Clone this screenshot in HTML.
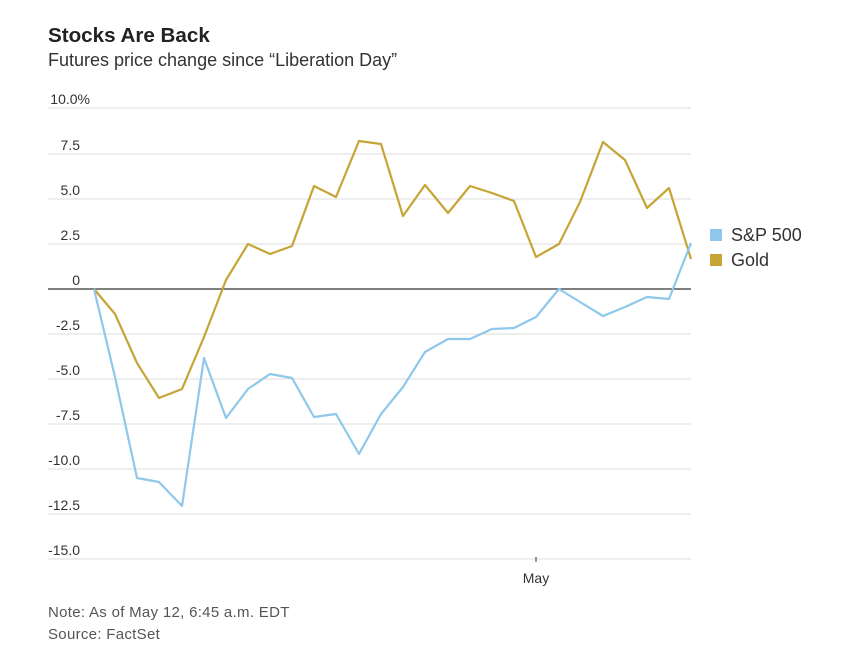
<!DOCTYPE html>
<html><head><meta charset="utf-8"><style>
body{margin:0;background:#fff;width:841px;height:663px;overflow:hidden;font-family:"Liberation Sans",sans-serif;color:#333}
</style></head><body>
<svg width="841" height="663" viewBox="0 0 841 663" xmlns="http://www.w3.org/2000/svg" style="position:absolute;left:0;top:0">
<text x="48" y="42" font-size="20.6" font-weight="bold" fill="#222" font-family="Liberation Sans, sans-serif">Stocks Are Back</text>
<text x="48" y="66" font-size="18" fill="#333" font-family="Liberation Sans, sans-serif">Futures price change since “Liberation Day”</text>
<g stroke="#e3e3e3" stroke-width="1.2">
<line x1="48" x2="691" y1="108" y2="108"/><line x1="48" x2="691" y1="154" y2="154"/>
<line x1="48" x2="691" y1="199" y2="199"/><line x1="48" x2="691" y1="244" y2="244"/>
<line x1="48" x2="691" y1="334" y2="334"/><line x1="48" x2="691" y1="379" y2="379"/>
<line x1="48" x2="691" y1="424" y2="424"/><line x1="48" x2="691" y1="469" y2="469"/>
<line x1="48" x2="691" y1="514" y2="514"/><line x1="48" x2="691" y1="559" y2="559"/>
</g>
<g font-size="14" fill="#333" text-anchor="end" font-family="Liberation Sans, sans-serif">
<text x="90" y="104">10.0%</text><text x="80" y="150">7.5</text><text x="80" y="195">5.0</text>
<text x="80" y="240">2.5</text><text x="80" y="285">0</text><text x="80" y="330">-2.5</text>
<text x="80" y="375">-5.0</text><text x="80" y="420">-7.5</text><text x="80" y="465">-10.0</text>
<text x="80" y="510">-12.5</text><text x="80" y="555">-15.0</text>
</g>
<line x1="536" x2="536" y1="557" y2="562" stroke="#333"/>
<text x="536" y="583" font-size="14" text-anchor="middle" fill="#333" font-family="Liberation Sans, sans-serif">May</text>
<line x1="48" x2="691" y1="289" y2="289" stroke="#333" stroke-width="1.2"/>
<polyline fill="none" stroke="#c6a435" stroke-width="2.2" stroke-linejoin="round" points="94,289 115,314 137,363 159,398 182,389 204,337 226,280 248,244 270,254 292,246 314,186 336,197 359,141 381,144 403,216 425,185 448,213 470,186 492,193 514,201 536,257 559,244 580,202 603,142 625,160 647,208 669,188 691,259"/>
<polyline fill="none" stroke="#8fc8ea" stroke-width="2.2" stroke-linejoin="round" points="94,289 115,377 137,478 159,482 182,506 204,358 226,418 248,389 270,374 292,378 314,417 336,414 359,454 381,414 403,387 425,352 448,339 470,339 492,329 514,328 536,317 559,289 580,302 603,316 625,307 647,297 669,299 691,243"/>
<rect x="710" y="229" width="12" height="12" fill="#8fc8ea"/>
<rect x="710" y="254" width="12" height="12" fill="#c6a435"/>
<text x="731" y="241" font-size="18" fill="#333" font-family="Liberation Sans, sans-serif">S&amp;P 500</text>
<text x="731" y="266" font-size="18" fill="#333" font-family="Liberation Sans, sans-serif">Gold</text>
<text x="48" y="617" font-size="15" letter-spacing="0.3" fill="#555" font-family="Liberation Sans, sans-serif">Note: As of May 12, 6:45 a.m. EDT</text>
<text x="48" y="639" font-size="15" letter-spacing="0.3" fill="#555" font-family="Liberation Sans, sans-serif">Source: FactSet</text>
</svg>
</body></html>
